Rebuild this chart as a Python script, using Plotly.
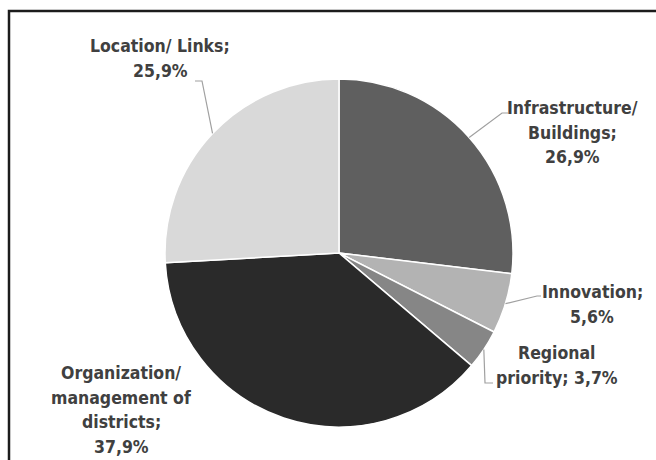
import math
import plotly.graph_objects as go

# ---- data ----
categories = ["Infrastructure/ Buildings", "Innovation", "Regional priority",
              "Organization/ management of districts", "Location/ Links"]
values = [26.9, 5.6, 3.7, 37.9, 25.9]
label_texts = ["Infrastructure/<br>Buildings;<br>26,9%",
               "Innovation;<br>5,6%",
               "Regional<br>priority; 3,7%",
               "Organization/<br>management of<br>districts;<br>37,9%",
               "Location/ Links;<br>25,9%"]

# ---- style / layout ----
colors = ["#5f5f5f", "#b3b3b3", "#868686", "#2a2a2a", "#d9d9d9"]
W, H = 656, 460
cx, cy, R = 339, 253, 174
# centre of first text line (pixels)
label_pos = [(572, 108), (592, 292), (557, 353), (121, 373), (160, 46)]
line_step = 24.5
# leader line elbow points (pixel coords) or None
leader_elbows = [[(502, 113), (508, 113)],
                 [(537, 296), (541, 296)],
                 [(485, 383), (493, 383)],
                 None,
                 [(202, 81), (195, 81)]]

fig = go.Figure()
fig.add_trace(go.Pie(
    labels=categories, values=values, sort=False, direction="clockwise",
    rotation=0, marker=dict(colors=colors, line=dict(color="white", width=1.5)),
    textinfo="none", hoverinfo="label+percent", showlegend=False,
    domain=dict(x=[(cx - R) / W, (cx + R) / W],
                y=[(H - cy - R) / H, (H - cy + R) / H]),
))

shapes = []
# outer frame
shapes.append(dict(type="rect", xref="paper", yref="paper",
                   x0=9 / W, x1=1.2, y0=-0.2, y1=1 - 11 / H,
                   line=dict(color="#1c1c1c", width=2.5), fillcolor="rgba(0,0,0,0)"))

total = sum(values)
cum = 0
for v, elb in zip(values, leader_elbows):
    mid = (cum + v / 2) / total * 2 * math.pi
    cum += v
    if elb is None:
        continue
    px = cx + R * math.sin(mid)
    py = cy - R * math.cos(mid)
    pts = [(px, py)] + elb
    path = "M " + " L ".join(f"{x},{y}" for x, y in pts)
    shapes.append(dict(type="path", xref="x", yref="y", path=path,
                       line=dict(color="#a0a0a0", width=1.2)))

annotations = []
for txt, (x, y) in zip(label_texts, label_pos):
    for i, line in enumerate(txt.split("<br>")):
        annotations.append(dict(x=x, y=y + i * line_step, xref="x", yref="y", text=line,
                                showarrow=False, align="center", xanchor="center",
                                yanchor="middle",
                                font=dict(family="Liberation Sans Narrow, DejaVu Sans Condensed, sans-serif",
                                          size=17.5, color="#404040", weight="bold")))

fig.update_layout(
    width=W, height=H, margin=dict(l=0, r=0, t=0, b=0),
    paper_bgcolor="white", plot_bgcolor="rgba(0,0,0,0)",
    xaxis=dict(range=[0, W], visible=False, fixedrange=True, domain=[0, 1]),
    yaxis=dict(range=[H, 0], visible=False, fixedrange=True, domain=[0, 1]),
    shapes=shapes, annotations=annotations,
)
fig.write_html("out.html", config={"displayModeBar": False},
               post_script="document.body.style.margin='0';")
